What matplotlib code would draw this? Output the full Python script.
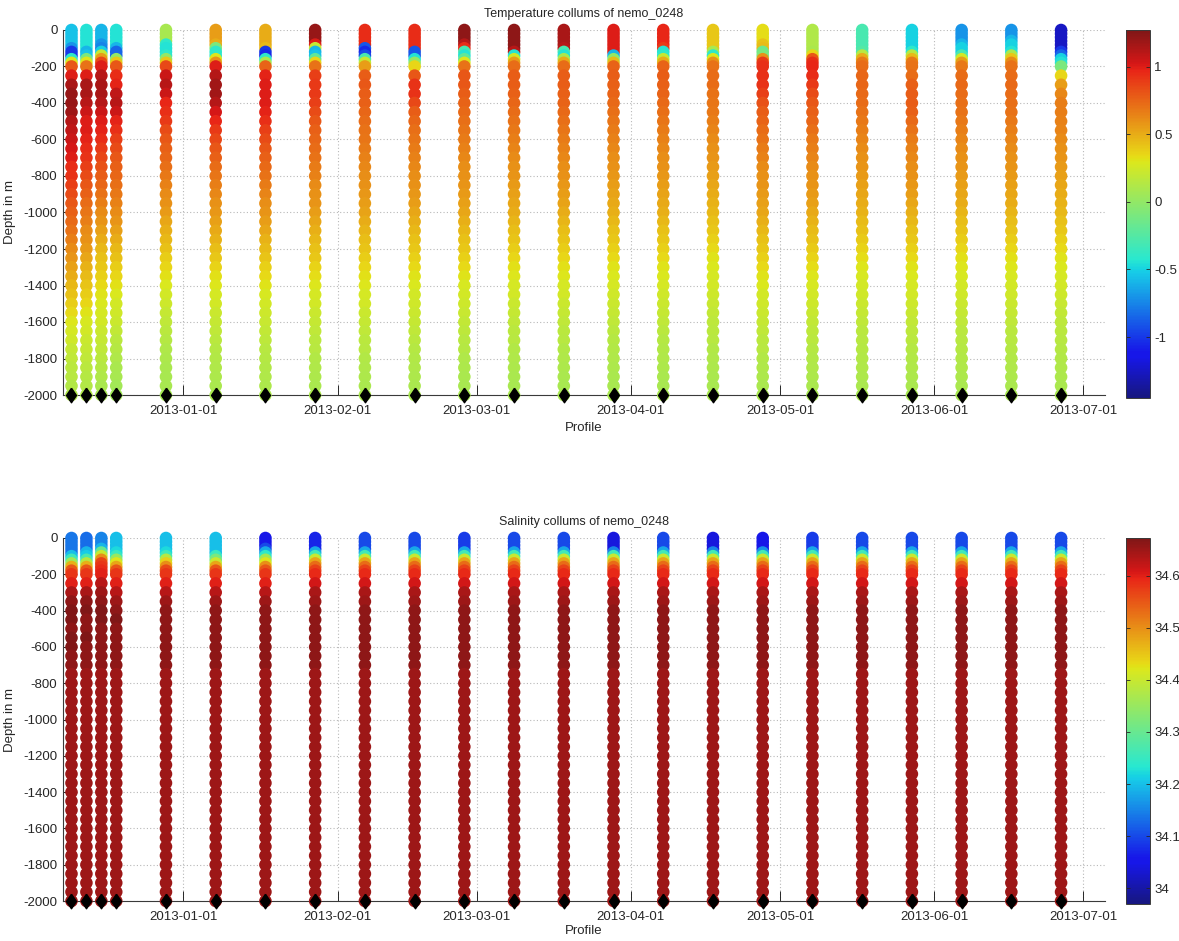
import numpy as np
import matplotlib
matplotlib.use("Agg")
import matplotlib.pyplot as plt
import matplotlib.dates as mdates
from matplotlib.colors import ListedColormap
from matplotlib.ticker import FuncFormatter, FixedLocator
from matplotlib import font_manager
from datetime import datetime

# ---------------------------------------------------------------- data
PROFILE_TIMES = [
    "2012-12-09 12:00", "2012-12-12 12:00", "2012-12-15 12:00", "2012-12-18 12:00",
    "2012-12-28 12:00", "2013-01-07 12:00", "2013-01-17 12:00", "2013-01-27 12:00",
    "2013-02-06 12:00", "2013-02-16 12:00", "2013-02-26 12:00", "2013-03-08 12:00",
    "2013-03-18 12:00", "2013-03-28 12:00", "2013-04-07 12:00", "2013-04-17 12:00",
    "2013-04-27 12:00", "2013-05-07 12:00", "2013-05-17 12:00", "2013-05-27 12:00",
    "2013-06-06 12:00", "2013-06-16 12:00", "2013-06-26 12:00",
]

DEPTH_M = [0, 20, 40, 60, 80, 100, 120, 140, 160, 180, 200,
           250, 300, 350, 400, 450, 500, 550, 600, 650, 700, 750, 800, 850, 900,
           950, 1000, 1050, 1100, 1150, 1200, 1250, 1300, 1350, 1400, 1450, 1500,
           1550, 1600, 1650, 1700, 1750, 1800, 1850, 1900, 1950, 2000]

# temperature (deg C), one row per profile, one value per DEPTH_M level
TEMPERATURE = [
    [-0.55, -0.55, -0.55, -0.55, -0.55, -0.7, -1.0, -1.0, -0.4, 0.3, 0.8,
     1.0, 1.15, 1.2, 1.2, 1.18, 1.12, 1.08, 1.05, 1.02, 1.0, 0.95, 0.92, 0.88, 0.84, 0.8, 0.77, 0.73,
     0.7, 0.66, 0.62, 0.58, 0.54, 0.5, 0.46, 0.42, 0.38, 0.34, 0.3, 0.27, 0.24, 0.2, 0.18, 0.16, 0.15, 0.13, 0.12],
    [-0.45, -0.45, -0.45, -0.45, -0.45, -0.45, -0.6, -0.55, -0.1, 0.3, 0.7,
     1.0, 1.15, 1.15, 1.1, 1.05, 1.0, 1.0, 0.98, 0.95, 0.92, 0.88, 0.84, 0.8, 0.76, 0.72, 0.69, 0.66,
     0.62, 0.59, 0.56, 0.52, 0.48, 0.45, 0.41, 0.38, 0.35, 0.31, 0.28, 0.25, 0.22, 0.2, 0.18, 0.16, 0.14, 0.13, 0.12],
    [-0.6, -0.6, -0.6, -0.6, -0.7, -0.75, -0.5, 0.2, 0.55, 0.85, 1.0,
     1.1, 1.15, 1.15, 1.12, 1.05, 1.0, 0.98, 0.95, 0.9, 0.86, 0.82, 0.78, 0.74, 0.7, 0.66, 0.62, 0.58,
     0.54, 0.5, 0.46, 0.43, 0.4, 0.37, 0.34, 0.31, 0.29, 0.27, 0.25, 0.22, 0.2, 0.18, 0.16, 0.14, 0.12, 0.1, 0.09],
    [-0.45, -0.45, -0.45, -0.45, -0.45, -0.6, -0.85, -0.85, 0.0, 0.4, 0.8,
     0.95, 0.98, 1.08, 1.1, 1.05, 0.98, 0.93, 0.88, 0.84, 0.8, 0.77, 0.74, 0.71, 0.68, 0.65, 0.62, 0.58,
     0.54, 0.5, 0.46, 0.42, 0.38, 0.35, 0.32, 0.29, 0.26, 0.24, 0.22, 0.19, 0.16, 0.14, 0.12, 0.1, 0.08, 0.06, 0.05],
    [0.08, 0.08, 0.08, 0.08, -0.4, -0.45, -0.45, -0.4, 0.0, 0.4, 0.85,
     1.05, 1.1, 1.05, 0.97, 0.93, 0.9, 0.84, 0.8, 0.77, 0.74, 0.71, 0.68, 0.65, 0.62, 0.6, 0.56, 0.52,
     0.49, 0.46, 0.42, 0.38, 0.35, 0.32, 0.29, 0.26, 0.23, 0.2, 0.18, 0.16, 0.14, 0.12, 0.11, 0.1, 0.09, 0.08, 0.07],
    [0.55, 0.55, 0.55, 0.55, 0.5, -0.1, -0.4, -0.4, 0.3, 0.6, 1.0,
     1.12, 1.17, 1.17, 1.12, 1.02, 0.97, 0.9, 0.85, 0.8, 0.76, 0.72, 0.69, 0.66, 0.63, 0.6, 0.57, 0.54,
     0.51, 0.48, 0.44, 0.4, 0.36, 0.32, 0.3, 0.27, 0.25, 0.22, 0.2, 0.18, 0.16, 0.14, 0.13, 0.12, 0.11, 0.1, 0.1],
    [0.5, 0.5, 0.5, 0.5, 0.5, 0.45, -1.0, -1.05, -0.4, 0.1, 0.75,
     0.98, 1.0, 1.0, 1.0, 0.98, 0.93, 0.88, 0.84, 0.8, 0.76, 0.73, 0.7, 0.67, 0.64, 0.61, 0.58, 0.55,
     0.52, 0.48, 0.45, 0.41, 0.37, 0.34, 0.31, 0.28, 0.26, 0.23, 0.21, 0.19, 0.17, 0.15, 0.14, 0.13, 0.12, 0.11, 0.1],
    [1.2, 1.2, 1.2, 1.2, 1.0, 0.2, -0.6, -0.55, -0.2, 0.35, 0.7,
     0.88, 0.9, 0.9, 0.88, 0.84, 0.8, 0.77, 0.74, 0.72, 0.7, 0.67, 0.65, 0.62, 0.6, 0.58, 0.55, 0.52,
     0.49, 0.46, 0.43, 0.4, 0.36, 0.33, 0.3, 0.27, 0.25, 0.22, 0.2, 0.18, 0.16, 0.15, 0.13, 0.12, 0.11, 0.1, 0.1],
    [0.95, 0.95, 0.95, 0.95, 0.95, -0.9, -1.05, -0.95, -0.3, 0.2, 0.55,
     0.78, 0.8, 0.78, 0.76, 0.74, 0.72, 0.7, 0.69, 0.67, 0.65, 0.63, 0.61, 0.59, 0.57, 0.55, 0.53, 0.5,
     0.47, 0.44, 0.41, 0.38, 0.35, 0.32, 0.3, 0.27, 0.25, 0.22, 0.2, 0.18, 0.16, 0.15, 0.13, 0.12, 0.11, 0.1, 0.1],
    [0.95, 0.95, 0.95, 0.95, 0.95, 0.95, -0.9, -0.9, -0.45, 0.0, 0.35,
     0.8, 0.92, 0.92, 0.85, 0.78, 0.74, 0.71, 0.69, 0.67, 0.65, 0.63, 0.61, 0.59, 0.57, 0.55, 0.52, 0.49,
     0.46, 0.43, 0.4, 0.37, 0.34, 0.31, 0.29, 0.26, 0.24, 0.22, 0.2, 0.18, 0.16, 0.14, 0.13, 0.12, 0.11, 0.1, 0.09],
    [1.22, 1.22, 1.22, 1.22, 1.1, 0.95, -0.3, -0.45, -0.2, 0.3, 0.7,
     0.8, 0.8, 0.78, 0.75, 0.73, 0.71, 0.69, 0.67, 0.65, 0.63, 0.61, 0.6, 0.58, 0.56, 0.54, 0.52, 0.49,
     0.46, 0.43, 0.4, 0.37, 0.34, 0.31, 0.28, 0.26, 0.23, 0.21, 0.19, 0.17, 0.15, 0.14, 0.12, 0.11, 0.1, 0.09, 0.09],
    [1.22, 1.22, 1.22, 1.22, 1.22, 1.22, 1.1, -0.45, 0.25, 0.55, 0.72,
     0.78, 0.78, 0.76, 0.74, 0.72, 0.7, 0.68, 0.66, 0.64, 0.62, 0.6, 0.58, 0.56, 0.54, 0.52, 0.5, 0.47,
     0.44, 0.41, 0.38, 0.35, 0.32, 0.3, 0.27, 0.25, 0.22, 0.2, 0.18, 0.16, 0.15, 0.13, 0.12, 0.11, 0.1, 0.09, 0.09],
    [1.15, 1.15, 1.15, 1.15, 1.15, 1.1, -0.3, -0.45, 0.1, 0.5, 0.72,
     0.78, 0.78, 0.77, 0.75, 0.73, 0.71, 0.69, 0.67, 0.65, 0.63, 0.61, 0.59, 0.57, 0.55, 0.53, 0.5, 0.47,
     0.44, 0.41, 0.38, 0.35, 0.32, 0.3, 0.27, 0.25, 0.22, 0.2, 0.18, 0.16, 0.15, 0.13, 0.12, 0.11, 0.1, 0.09, 0.09],
    [1.0, 1.0, 1.0, 1.0, 1.0, 1.0, 1.0, -0.6, 0.0, 0.45, 0.75,
     0.78, 0.77, 0.75, 0.73, 0.71, 0.69, 0.67, 0.65, 0.63, 0.61, 0.59, 0.57, 0.55, 0.53, 0.51, 0.49, 0.46,
     0.43, 0.4, 0.37, 0.34, 0.31, 0.29, 0.27, 0.24, 0.22, 0.2, 0.18, 0.16, 0.14, 0.13, 0.12, 0.11, 0.1, 0.09, 0.08],
    [0.97, 0.97, 0.97, 0.97, 0.97, 0.9, -0.45, -0.4, 0.2, 0.5, 0.75,
     0.78, 0.77, 0.75, 0.73, 0.71, 0.69, 0.67, 0.65, 0.63, 0.61, 0.59, 0.57, 0.55, 0.53, 0.51, 0.49, 0.46,
     0.43, 0.4, 0.37, 0.34, 0.31, 0.29, 0.27, 0.24, 0.22, 0.2, 0.18, 0.16, 0.14, 0.13, 0.12, 0.11, 0.1, 0.09, 0.08],
    [0.4, 0.4, 0.4, 0.4, 0.4, 0.4, 0.1, -0.4, 0.3, 0.6, 0.7,
     0.72, 0.72, 0.7, 0.69, 0.68, 0.66, 0.64, 0.62, 0.6, 0.58, 0.56, 0.54, 0.52, 0.5, 0.48, 0.46, 0.43,
     0.4, 0.37, 0.34, 0.31, 0.29, 0.27, 0.25, 0.23, 0.21, 0.19, 0.17, 0.16, 0.15, 0.13, 0.12, 0.11, 0.1, 0.09, 0.08],
    [0.33, 0.33, 0.33, 0.33, 0.42, 0.45, -0.15, -0.1, 0.6, 0.9, 0.93,
     0.93, 0.92, 0.88, 0.82, 0.78, 0.75, 0.72, 0.7, 0.67, 0.65, 0.62, 0.6, 0.58, 0.56, 0.54, 0.52, 0.49,
     0.46, 0.43, 0.4, 0.37, 0.34, 0.31, 0.29, 0.26, 0.24, 0.22, 0.2, 0.18, 0.16, 0.15, 0.13, 0.12, 0.11, 0.1, 0.09],
    [0.12, 0.12, 0.12, 0.12, 0.12, 0.12, 0.1, 0.35, 0.8, 0.95, 0.97,
     0.95, 0.9, 0.84, 0.8, 0.77, 0.74, 0.71, 0.68, 0.66, 0.64, 0.62, 0.6, 0.58, 0.56, 0.54, 0.51, 0.48,
     0.45, 0.42, 0.39, 0.36, 0.33, 0.3, 0.28, 0.26, 0.23, 0.21, 0.19, 0.17, 0.16, 0.14, 0.13, 0.12, 0.11, 0.1, 0.09],
    [-0.3, -0.3, -0.3, -0.3, -0.3, -0.3, -0.25, 0.15, 0.5, 0.68, 0.72,
     0.74, 0.74, 0.73, 0.72, 0.7, 0.68, 0.66, 0.64, 0.62, 0.6, 0.58, 0.56, 0.54, 0.52, 0.5, 0.48, 0.45,
     0.42, 0.39, 0.36, 0.33, 0.3, 0.28, 0.26, 0.24, 0.22, 0.2, 0.18, 0.16, 0.15, 0.14, 0.13, 0.12, 0.11, 0.1, 0.09],
    [-0.5, -0.5, -0.5, -0.5, -0.5, -0.5, -0.4, 0.15, 0.45, 0.68, 0.7,
     0.72, 0.76, 0.78, 0.78, 0.76, 0.73, 0.7, 0.67, 0.65, 0.63, 0.61, 0.59, 0.57, 0.55, 0.52, 0.49, 0.46,
     0.43, 0.4, 0.37, 0.34, 0.31, 0.29, 0.27, 0.25, 0.23, 0.21, 0.19, 0.17, 0.16, 0.14, 0.13, 0.12, 0.11, 0.1, 0.09],
    [-0.7, -0.7, -0.7, -0.7, -0.6, -0.5, -0.5, -0.3, 0.25, 0.55, 0.68,
     0.72, 0.73, 0.72, 0.71, 0.7, 0.68, 0.66, 0.64, 0.62, 0.6, 0.58, 0.56, 0.54, 0.52, 0.5, 0.47, 0.44,
     0.41, 0.38, 0.35, 0.32, 0.3, 0.28, 0.26, 0.24, 0.22, 0.2, 0.18, 0.16, 0.15, 0.14, 0.13, 0.12, 0.11, 0.1, 0.09],
    [-0.7, -0.7, -0.7, -0.6, -0.5, -0.5, -0.45, 0.1, 0.4, 0.62, 0.7,
     0.72, 0.73, 0.72, 0.71, 0.7, 0.68, 0.66, 0.64, 0.62, 0.6, 0.58, 0.56, 0.54, 0.52, 0.5, 0.47, 0.44,
     0.41, 0.38, 0.35, 0.32, 0.3, 0.28, 0.26, 0.24, 0.22, 0.2, 0.18, 0.16, 0.15, 0.14, 0.13, 0.12, 0.11, 0.1, 0.09],
    [-1.25, -1.25, -1.25, -1.25, -1.25, -1.25, -1.0, -0.85, -0.5, -0.45, -0.1,
     0.35, 0.55, 0.63, 0.66, 0.66, 0.65, 0.64, 0.62, 0.6, 0.58, 0.56, 0.54, 0.52, 0.5, 0.48, 0.46, 0.43,
     0.4, 0.37, 0.34, 0.31, 0.29, 0.27, 0.25, 0.23, 0.21, 0.19, 0.17, 0.16, 0.15, 0.14, 0.13, 0.12, 0.11, 0.1, 0.09],
]

# salinity (PSU), one row per profile, one value per DEPTH_M level
SALINITY = [
    [34.14, 34.14, 34.14, 34.14, 34.14, 34.2, 34.26, 34.36, 34.47, 34.55, 34.58,
     34.6, 34.64, 34.66, 34.67, 34.67, 34.66, 34.67, 34.67, 34.66, 34.66, 34.65, 34.65, 34.65, 34.65, 34.65,
     34.65, 34.65, 34.65, 34.65, 34.65, 34.65, 34.65, 34.65, 34.65, 34.65, 34.65, 34.65, 34.65, 34.65, 34.65,
     34.65, 34.65, 34.65, 34.65, 34.65, 34.65],
    [34.13, 34.13, 34.13, 34.13, 34.19, 34.21, 34.27, 34.38, 34.47, 34.55, 34.58,
     34.6, 34.64, 34.66, 34.67, 34.66, 34.66, 34.67, 34.66, 34.66, 34.66, 34.65, 34.65, 34.65, 34.65, 34.65,
     34.65, 34.65, 34.65, 34.65, 34.65, 34.65, 34.65, 34.65, 34.65, 34.65, 34.65, 34.65, 34.65, 34.65, 34.65,
     34.65, 34.65, 34.65, 34.65, 34.65, 34.65],
    [34.15, 34.15, 34.15, 34.19, 34.3, 34.4, 34.5, 34.57, 34.58, 34.59, 34.6,
     34.63, 34.65, 34.66, 34.67, 34.67, 34.66, 34.66, 34.66, 34.66, 34.66, 34.65, 34.65, 34.65, 34.65, 34.65,
     34.65, 34.65, 34.65, 34.65, 34.65, 34.65, 34.65, 34.65, 34.65, 34.65, 34.65, 34.65, 34.65, 34.65, 34.65,
     34.65, 34.65, 34.65, 34.65, 34.65, 34.65],
    [34.2, 34.2, 34.2, 34.2, 34.22, 34.25, 34.35, 34.42, 34.48, 34.55, 34.58,
     34.6, 34.63, 34.65, 34.66, 34.67, 34.66, 34.66, 34.66, 34.66, 34.66, 34.65, 34.65, 34.65, 34.65, 34.65,
     34.65, 34.65, 34.65, 34.65, 34.65, 34.65, 34.65, 34.65, 34.65, 34.65, 34.65, 34.65, 34.65, 34.65, 34.65,
     34.65, 34.65, 34.65, 34.65, 34.65, 34.65],
    [34.2, 34.2, 34.2, 34.2, 34.22, 34.26, 34.38, 34.44, 34.5, 34.56, 34.58,
     34.6, 34.63, 34.65, 34.66, 34.66, 34.66, 34.66, 34.66, 34.66, 34.66, 34.65, 34.65, 34.65, 34.65, 34.65,
     34.65, 34.65, 34.65, 34.65, 34.65, 34.65, 34.65, 34.65, 34.65, 34.65, 34.65, 34.65, 34.65, 34.65, 34.65,
     34.65, 34.65, 34.65, 34.65, 34.65, 34.65],
    [34.2, 34.2, 34.2, 34.2, 34.2, 34.25, 34.32, 34.4, 34.48, 34.55, 34.58,
     34.6, 34.63, 34.65, 34.66, 34.66, 34.66, 34.66, 34.66, 34.66, 34.66, 34.65, 34.65, 34.65, 34.65, 34.65,
     34.65, 34.65, 34.65, 34.65, 34.65, 34.65, 34.65, 34.65, 34.65, 34.65, 34.65, 34.65, 34.65, 34.65, 34.65,
     34.65, 34.65, 34.65, 34.65, 34.65, 34.65],
    [34.05, 34.05, 34.05, 34.1, 34.18, 34.24, 34.36, 34.42, 34.5, 34.55, 34.58,
     34.6, 34.63, 34.65, 34.66, 34.66, 34.66, 34.66, 34.66, 34.66, 34.66, 34.65, 34.65, 34.65, 34.65, 34.65,
     34.65, 34.65, 34.65, 34.65, 34.65, 34.65, 34.65, 34.65, 34.65, 34.65, 34.65, 34.65, 34.65, 34.65, 34.65,
     34.65, 34.65, 34.65, 34.65, 34.65, 34.65],
    [34.07, 34.07, 34.07, 34.07, 34.18, 34.26, 34.4, 34.48, 34.53, 34.57, 34.59,
     34.61, 34.64, 34.65, 34.66, 34.66, 34.66, 34.66, 34.66, 34.66, 34.66, 34.65, 34.65, 34.65, 34.65, 34.65,
     34.65, 34.65, 34.65, 34.65, 34.65, 34.65, 34.65, 34.65, 34.65, 34.65, 34.65, 34.65, 34.65, 34.65, 34.65,
     34.65, 34.65, 34.65, 34.65, 34.65, 34.65],
    [34.1, 34.1, 34.1, 34.1, 34.18, 34.26, 34.4, 34.48, 34.53, 34.57, 34.59,
     34.61, 34.64, 34.65, 34.66, 34.66, 34.66, 34.66, 34.66, 34.66, 34.66, 34.65, 34.65, 34.65, 34.65, 34.65,
     34.65, 34.65, 34.65, 34.65, 34.65, 34.65, 34.65, 34.65, 34.65, 34.65, 34.65, 34.65, 34.65, 34.65, 34.65,
     34.65, 34.65, 34.65, 34.65, 34.65, 34.65],
    [34.1, 34.1, 34.1, 34.1, 34.18, 34.26, 34.4, 34.48, 34.53, 34.57, 34.59,
     34.61, 34.64, 34.65, 34.66, 34.66, 34.66, 34.66, 34.66, 34.66, 34.66, 34.65, 34.65, 34.65, 34.65, 34.65,
     34.65, 34.65, 34.65, 34.65, 34.65, 34.65, 34.65, 34.65, 34.65, 34.65, 34.65, 34.65, 34.65, 34.65, 34.65,
     34.65, 34.65, 34.65, 34.65, 34.65, 34.65],
    [34.09, 34.09, 34.09, 34.09, 34.18, 34.26, 34.4, 34.48, 34.53, 34.57, 34.59,
     34.61, 34.64, 34.65, 34.66, 34.66, 34.66, 34.66, 34.66, 34.66, 34.66, 34.65, 34.65, 34.65, 34.65, 34.65,
     34.65, 34.65, 34.65, 34.65, 34.65, 34.65, 34.65, 34.65, 34.65, 34.65, 34.65, 34.65, 34.65, 34.65, 34.65,
     34.65, 34.65, 34.65, 34.65, 34.65, 34.65],
    [34.1, 34.1, 34.1, 34.1, 34.18, 34.26, 34.4, 34.48, 34.53, 34.57, 34.59,
     34.61, 34.64, 34.65, 34.66, 34.66, 34.66, 34.66, 34.66, 34.66, 34.66, 34.65, 34.65, 34.65, 34.65, 34.65,
     34.65, 34.65, 34.65, 34.65, 34.65, 34.65, 34.65, 34.65, 34.65, 34.65, 34.65, 34.65, 34.65, 34.65, 34.65,
     34.65, 34.65, 34.65, 34.65, 34.65, 34.65],
    [34.1, 34.1, 34.1, 34.1, 34.18, 34.26, 34.4, 34.48, 34.53, 34.57, 34.59,
     34.61, 34.64, 34.65, 34.66, 34.66, 34.66, 34.66, 34.66, 34.66, 34.66, 34.65, 34.65, 34.65, 34.65, 34.65,
     34.65, 34.65, 34.65, 34.65, 34.65, 34.65, 34.65, 34.65, 34.65, 34.65, 34.65, 34.65, 34.65, 34.65, 34.65,
     34.65, 34.65, 34.65, 34.65, 34.65, 34.65],
    [34.04, 34.04, 34.04, 34.04, 34.15, 34.26, 34.4, 34.48, 34.53, 34.57, 34.59,
     34.61, 34.64, 34.65, 34.66, 34.66, 34.66, 34.66, 34.66, 34.66, 34.66, 34.65, 34.65, 34.65, 34.65, 34.65,
     34.65, 34.65, 34.65, 34.65, 34.65, 34.65, 34.65, 34.65, 34.65, 34.65, 34.65, 34.65, 34.65, 34.65, 34.65,
     34.65, 34.65, 34.65, 34.65, 34.65, 34.65],
    [34.1, 34.1, 34.1, 34.1, 34.18, 34.26, 34.4, 34.48, 34.53, 34.57, 34.59,
     34.61, 34.64, 34.65, 34.66, 34.66, 34.66, 34.66, 34.66, 34.66, 34.66, 34.65, 34.65, 34.65, 34.65, 34.65,
     34.65, 34.65, 34.65, 34.65, 34.65, 34.65, 34.65, 34.65, 34.65, 34.65, 34.65, 34.65, 34.65, 34.65, 34.65,
     34.65, 34.65, 34.65, 34.65, 34.65, 34.65],
    [34.04, 34.04, 34.04, 34.04, 34.15, 34.26, 34.4, 34.48, 34.53, 34.57, 34.59,
     34.61, 34.64, 34.65, 34.66, 34.66, 34.66, 34.66, 34.66, 34.66, 34.66, 34.65, 34.65, 34.65, 34.65, 34.65,
     34.65, 34.65, 34.65, 34.65, 34.65, 34.65, 34.65, 34.65, 34.65, 34.65, 34.65, 34.65, 34.65, 34.65, 34.65,
     34.65, 34.65, 34.65, 34.65, 34.65, 34.65],
    [34.06, 34.06, 34.06, 34.06, 34.16, 34.26, 34.4, 34.48, 34.53, 34.57, 34.59,
     34.61, 34.64, 34.65, 34.66, 34.66, 34.66, 34.66, 34.66, 34.66, 34.66, 34.65, 34.65, 34.65, 34.65, 34.65,
     34.65, 34.65, 34.65, 34.65, 34.65, 34.65, 34.65, 34.65, 34.65, 34.65, 34.65, 34.65, 34.65, 34.65, 34.65,
     34.65, 34.65, 34.65, 34.65, 34.65, 34.65],
    [34.09, 34.09, 34.09, 34.09, 34.18, 34.26, 34.4, 34.48, 34.53, 34.57, 34.59,
     34.61, 34.64, 34.65, 34.66, 34.66, 34.66, 34.66, 34.66, 34.66, 34.66, 34.65, 34.65, 34.65, 34.65, 34.65,
     34.65, 34.65, 34.65, 34.65, 34.65, 34.65, 34.65, 34.65, 34.65, 34.65, 34.65, 34.65, 34.65, 34.65, 34.65,
     34.65, 34.65, 34.65, 34.65, 34.65, 34.65],
    [34.1, 34.1, 34.1, 34.1, 34.18, 34.26, 34.4, 34.48, 34.53, 34.57, 34.59,
     34.61, 34.64, 34.65, 34.66, 34.66, 34.66, 34.66, 34.66, 34.66, 34.66, 34.65, 34.65, 34.65, 34.65, 34.65,
     34.65, 34.65, 34.65, 34.65, 34.65, 34.65, 34.65, 34.65, 34.65, 34.65, 34.65, 34.65, 34.65, 34.65, 34.65,
     34.65, 34.65, 34.65, 34.65, 34.65, 34.65],
    [34.1, 34.1, 34.1, 34.1, 34.18, 34.26, 34.4, 34.48, 34.53, 34.57, 34.59,
     34.61, 34.64, 34.65, 34.66, 34.66, 34.66, 34.66, 34.66, 34.66, 34.66, 34.65, 34.65, 34.65, 34.65, 34.65,
     34.65, 34.65, 34.65, 34.65, 34.65, 34.65, 34.65, 34.65, 34.65, 34.65, 34.65, 34.65, 34.65, 34.65, 34.65,
     34.65, 34.65, 34.65, 34.65, 34.65, 34.65],
    [34.1, 34.1, 34.1, 34.1, 34.18, 34.26, 34.4, 34.48, 34.53, 34.57, 34.59,
     34.61, 34.64, 34.65, 34.66, 34.66, 34.66, 34.66, 34.66, 34.66, 34.66, 34.65, 34.65, 34.65, 34.65, 34.65,
     34.65, 34.65, 34.65, 34.65, 34.65, 34.65, 34.65, 34.65, 34.65, 34.65, 34.65, 34.65, 34.65, 34.65, 34.65,
     34.65, 34.65, 34.65, 34.65, 34.65, 34.65],
    [34.1, 34.1, 34.1, 34.1, 34.18, 34.26, 34.4, 34.48, 34.53, 34.57, 34.59,
     34.61, 34.64, 34.65, 34.66, 34.66, 34.66, 34.66, 34.66, 34.66, 34.66, 34.65, 34.65, 34.65, 34.65, 34.65,
     34.65, 34.65, 34.65, 34.65, 34.65, 34.65, 34.65, 34.65, 34.65, 34.65, 34.65, 34.65, 34.65, 34.65, 34.65,
     34.65, 34.65, 34.65, 34.65, 34.65, 34.65],
    [34.1, 34.1, 34.1, 34.1, 34.18, 34.26, 34.4, 34.48, 34.53, 34.57, 34.59,
     34.61, 34.64, 34.65, 34.66, 34.66, 34.66, 34.66, 34.66, 34.66, 34.66, 34.65, 34.65, 34.65, 34.65, 34.65,
     34.65, 34.65, 34.65, 34.65, 34.65, 34.65, 34.65, 34.65, 34.65, 34.65, 34.65, 34.65, 34.65, 34.65, 34.65,
     34.65, 34.65, 34.65, 34.65, 34.65, 34.65],
]

DEPTH_TICKS = [-2000, -1800, -1600, -1400, -1200, -1000, -800, -600, -400, -200, 0]
MONTH_TICKS = ["2013-01-01", "2013-02-01", "2013-03-01", "2013-04-01", "2013-05-01",
               "2013-06-01", "2013-07-01"]
TEMP_TICKS = [-1, -0.5, 0, 0.5, 1]
SAL_TICKS = [34, 34.1, 34.2, 34.3, 34.4, 34.5, 34.6]
TEMP_LIMITS = (-1.45, 1.27)
SAL_LIMITS = (33.97, 34.672)
X_LIMITS = ("2012-12-07 19:00", "2013-07-05 08:00")
TITLE_TEMP = "Temperature collums of nemo_0248"
TITLE_SAL = "Salinity collums of nemo_0248"

# ---------------------------------------------------------------- style
available = {f.name for f in font_manager.fontManager.ttflist}
families = [f for f in ["Liberation Sans", "DejaVu Sans"] if f in available]
plt.rcParams["font.family"] = families
plt.rcParams["axes.unicode_minus"] = False
FS = 9.5
FS_TITLE = 9.0

# jet, slightly muted like the printed original
_jet = plt.get_cmap("jet")(np.linspace(0, 1, 256))
_mix = _jet.copy()
_mix[:, :3] = 0.82 * _jet[:, :3] + 0.18 * 0.5
MUTED_JET = ListedColormap(_mix)

DIAMOND = [(0, 1), (0.68, 0), (0, -1), (-0.68, 0), (0, 1)]

W, H = 1179, 941
fig = plt.figure(figsize=(W / 100, H / 100), dpi=100)


def rect(left, top, right, bottom):
    return [left / W, 1 - bottom / H, (right - left) / W, (bottom - top) / H]


def to_num(s, fmt):
    return mdates.date2num(datetime.strptime(s, fmt))


times = np.array([to_num(t, "%Y-%m-%d %H:%M") for t in PROFILE_TIMES])
depth = np.asarray(DEPTH_M, float)
month_ticks = [to_num(t, "%Y-%m-%d") for t in MONTH_TICKS]
xlim = [to_num(t, "%Y-%m-%d %H:%M") for t in X_LIMITS]
fmt_g = FuncFormatter(lambda v, p: f"{v:g}")
TXT = "#262626"


def draw_panel(ax_rect, cb_rect, values, clim, cticks, title, xlabelpad):
    ax = fig.add_axes(ax_rect)
    vals = np.asarray(values, float)
    xs = np.repeat(times, depth.size)
    ys = -np.tile(depth, times.size)
    sc = ax.scatter(xs, ys, c=vals.ravel(), cmap=MUTED_JET, vmin=clim[0], vmax=clim[1],
                    s=82, marker="o", linewidths=0, clip_on=False, zorder=3)
    ax.plot(times, -np.full(times.size, depth.max()), linestyle="none", marker=DIAMOND,
            color="black", markersize=10.5, clip_on=False, zorder=4)
    ax.set_xlim(xlim)
    ax.set_ylim(-2000, 0)
    ax.xaxis.set_major_locator(FixedLocator(month_ticks))
    ax.xaxis.set_major_formatter(mdates.DateFormatter("%Y-%m-%d"))
    ax.set_yticks(DEPTH_TICKS)
    ax.yaxis.set_major_formatter(fmt_g)
    ax.grid(True, linestyle=(0, (1, 2)), color="#b8b8b8", linewidth=0.8)
    ax.set_axisbelow(True)
    for side in ("top", "right"):
        ax.spines[side].set_visible(False)
    for side in ("left", "bottom"):
        ax.spines[side].set_color("#3a3a3a")
        ax.spines[side].set_linewidth(0.8)
    ax.tick_params(axis="both", direction="in", length=7, width=0.7, colors=TXT,
                   labelsize=FS)
    ax.tick_params(axis="x", pad=7)
    ax.tick_params(axis="y", pad=4)
    ax.set_title(title, fontsize=FS_TITLE, pad=9.5, color=TXT)
    ax.set_xlabel("Profile", fontsize=FS, color=TXT, labelpad=xlabelpad)
    ax.set_ylabel("Depth in m", fontsize=FS, color=TXT, labelpad=5)

    cax = fig.add_axes(cb_rect)
    cb = fig.colorbar(sc, cax=cax)
    cb.set_ticks(cticks)
    cb.ax.yaxis.set_major_formatter(fmt_g)
    cb.ax.tick_params(direction="in", length=3, width=0.6, left=True, right=True,
                      labelsize=FS, colors=TXT, pad=3)
    cb.outline.set_linewidth(0.7)
    cb.outline.set_edgecolor("#3a3a3a")
    return ax


draw_panel(rect(63, 30, 1105, 395), rect(1126, 30, 1150, 398),
           TEMPERATURE, TEMP_LIMITS, TEMP_TICKS, TITLE_TEMP, 4)
draw_panel(rect(63, 538, 1105, 901), rect(1126, 538, 1150, 904),
           SALINITY, SAL_LIMITS, SAL_TICKS, TITLE_SAL, 1.5)

fig.savefig("out.png", dpi=100)
